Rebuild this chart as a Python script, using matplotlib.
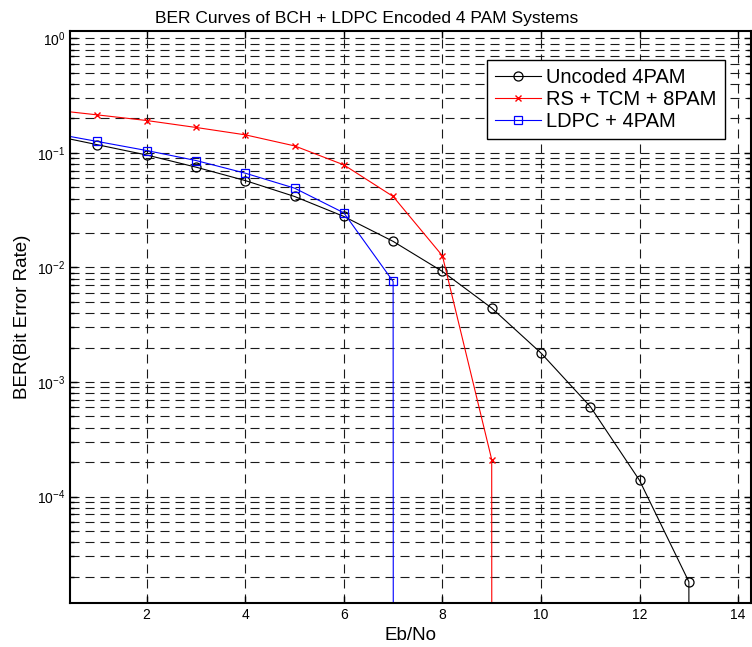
import numpy as np
import matplotlib
matplotlib.use("Agg")
import matplotlib.pyplot as plt

plt.rcParams['font.family'] = ['Liberation Sans', 'DejaVu Sans']
plt.rcParams['mathtext.fontset'] = 'custom'
plt.rcParams['mathtext.rm'] = 'Liberation Sans'
plt.rcParams['mathtext.it'] = 'Liberation Sans:italic'
plt.rcParams['lines.scale_dashes'] = False
plt.rcParams['axes.unicode_minus'] = False

ebno = [0, 1, 2, 3, 4, 5, 6, 7, 8, 9, 10, 11, 12, 13, 14]
uncoded_4pam = [0.145, 0.118, 0.096, 0.0752, 0.0574, 0.0417, 0.0279, 0.0169,
                0.00923, 0.00442, 0.00179, 6.1e-4, 1.38e-4, 1.8e-5, 0]
rs_tcm_8pam = [0.24, 0.215, 0.192, 0.167, 0.144, 0.1153, 0.0787, 0.0417,
               0.01265, 2.1e-4, 0, 0, 0, 0, 0]
ldpc_4pam = [0.151, 0.126, 0.105, 0.0859, 0.0666, 0.0493, 0.0300, 0.00755,
             0, 0, 0, 0, 0, 0, 0]
labels = ['Uncoded 4PAM', 'RS + TCM + 8PAM', 'LDPC + 4PAM']
x_ticks = [2, 4, 6, 8, 10, 12, 14]

W, H = 752, 647
fig = plt.figure(figsize=(W / 100, H / 100), dpi=100)
ax = fig.add_axes([70 / W, 1 - 603 / H, (750.5 - 70) / W, (603 - 31) / H])
ax.set_yscale('log', nonpositive='clip')

ax.plot(ebno, uncoded_4pam, color='black', lw=0.8, marker='o', ms=6.5,
        mfc='none', mec='black', mew=0.9, label=labels[0])
ax.plot(ebno, rs_tcm_8pam, color='red', lw=0.8, marker='x', ms=4,
        mec='red', mew=1.0, label=labels[1])
ax.plot(ebno, ldpc_4pam, color='blue', lw=0.8, marker='s', ms=6.2,
        mfc='none', mec='blue', mew=0.9, label=labels[2])

ax.set_xlim(0.445, 14.25)
ax.set_ylim(10 ** -4.93, 10 ** 0.065)
ax.set_xticks(x_ticks)
ax.set_xticklabels([str(t) for t in x_ticks])

dash = (0, (6.5, 4.3))
ax.grid(True, which='major', axis='both', color='#1a1a1a', lw=0.8, linestyle=dash)
ax.grid(True, which='minor', axis='y', color='#1a1a1a', lw=0.8, linestyle=dash)
ax.set_axisbelow(True)

ax.tick_params(which='both', direction='in', top=True, right=True,
               labelsize=10, width=1.0, colors='black')
ax.tick_params(which='major', length=5)
ax.tick_params(which='minor', length=3)
for s in ax.spines.values():
    s.set_linewidth(1.5)
    s.set_color('black')

ax.set_title('BER Curves of BCH + LDPC Encoded 4 PAM Systems', fontsize=12.5,
             pad=6, x=(367 - 70) / (750.5 - 70))
ax.set_xlabel('Eb/No', fontsize=13.5, labelpad=4)
ax.set_ylabel('BER(Bit Error Rate)', fontsize=13.5, labelpad=4)

leg = ax.legend(loc='upper left', bbox_to_anchor=(487 / W, 1 - 60 / H),
                bbox_transform=fig.transFigure, fontsize=14.5, frameon=True,
                fancybox=False, shadow=False, borderpad=0.4, handlelength=2.3,
                handletextpad=0.25, labelspacing=0.15, borderaxespad=0)
leg.get_frame().set_edgecolor('black')
leg.get_frame().set_linewidth(1.0)
leg.get_frame().set_alpha(1.0)

fig.savefig('out.png', dpi=100)
